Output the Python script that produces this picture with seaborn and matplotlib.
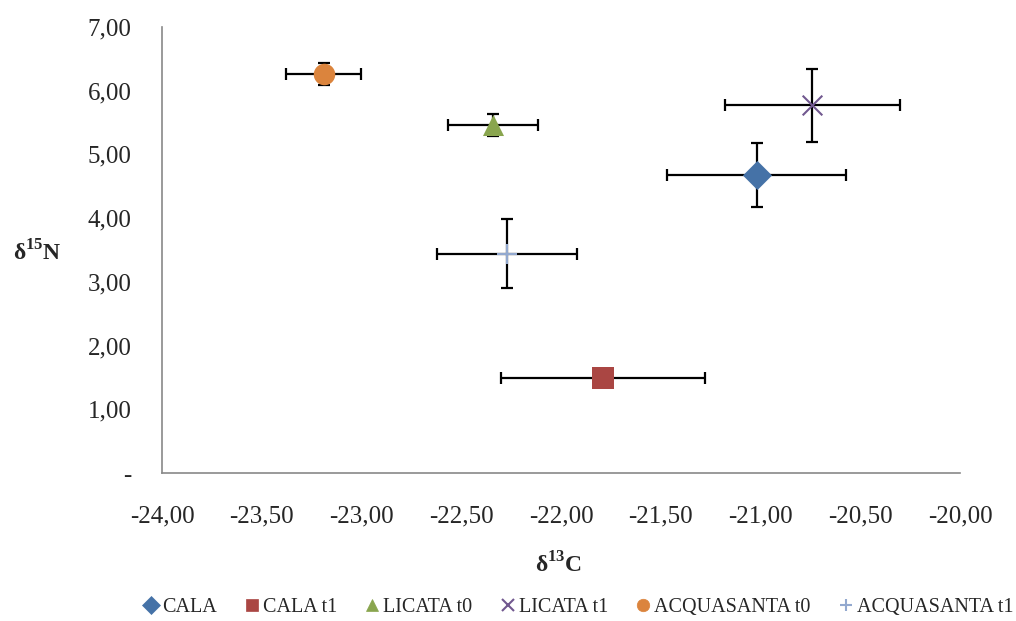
import pandas as pd
import matplotlib
matplotlib.use("Agg")
import matplotlib.pyplot as plt
from matplotlib.ticker import FuncFormatter, MultipleLocator
from matplotlib.lines import Line2D
import seaborn as sns

# Dati (medie e deviazioni standard)
gruppi = ["CALA", "CALA t1", "LICATA t0", "LICATA t1", "ACQUASANTA t0", "ACQUASANTA t1"]
d13c = [-21.02, -21.79, -22.34, -20.74, -23.19, -22.27]
d15n = [4.68, 1.49, 5.46, 5.77, 6.26, 3.44]
err_c = [0.45, 0.51, 0.225, 0.44, 0.19, 0.35]
err_n = [0.50, 0.10, 0.17, 0.57, 0.17, 0.54]

colori = ["#4572A7", "#AA4643", "#89A54E", "#71588F", "#DB843D", "#93A9CF"]
marcatori = ["D", "s", "^", "x", "o", "+"]
dimensioni = [220, 250, 230, 200, 240, 210]

sns.set_style("white")
plt.rcParams["font.family"] = ["Liberation Serif", "DejaVu Serif"]
plt.rcParams["mathtext.fontset"] = "custom"
plt.rcParams["mathtext.rm"] = "Liberation Serif"
plt.rcParams["mathtext.bf"] = "Liberation Serif:bold"

df = pd.DataFrame({"Gruppo": gruppi, "d13C": d13c, "d15N": d15n,
                   "errC": err_c, "errN": err_n})

fig = plt.figure(figsize=(10.16, 6.21), dpi=100)
ax = fig.add_axes([0.1594, 0.2383, 0.7855, 0.7182])

ax.errorbar(df["d13C"], df["d15N"], xerr=df["errC"], yerr=df["errN"],
            fmt="none", ecolor="black", elinewidth=1.6, capsize=4.5,
            capthick=1.6, zorder=1)

for i, g in enumerate(gruppi):
    sub = df[df["Gruppo"] == g]
    lw = 1.5 if marcatori[i] in ("x", "+") else 0
    sns.scatterplot(data=sub, x="d13C", y="d15N", marker=marcatori[i],
                    color=colori[i], s=dimensioni[i], linewidth=lw,
                    edgecolor=colori[i] if lw == 0 else None,
                    ax=ax, zorder=3, legend=False)

ax.set_xlim(-24, -20)
ax.set_ylim(0, 7)
ax.xaxis.set_major_locator(MultipleLocator(0.5))
ax.yaxis.set_major_locator(MultipleLocator(1))


def fmt_virgola(v, pos):
    if abs(v) < 1e-9:
        return "-"
    return f"{v:.2f}".replace(".", ",")


ax.xaxis.set_major_formatter(FuncFormatter(fmt_virgola))
ax.yaxis.set_major_formatter(FuncFormatter(fmt_virgola))

for s in ["top", "right"]:
    ax.spines[s].set_visible(False)
for s in ["left", "bottom"]:
    ax.spines[s].set_color("#898989")
    ax.spines[s].set_linewidth(1.2)

ax.tick_params(axis="both", which="major", direction="out", length=5,
               width=1.2, color="#898989", labelsize=18)
ax.tick_params(axis="y", pad=17)
ax.tick_params(axis="x", pad=18)

ax.set_xlabel("δ$^{\\mathbf{13}}$C", fontsize=17, fontweight="bold", va="center")
ax.set_ylabel("δ$^{\\mathbf{15}}$N", fontsize=17, fontweight="bold",
              rotation=0, va="center", ha="center")
ax.xaxis.set_label_coords(0.497, -0.206)
ax.yaxis.set_label_coords(-0.1566, 0.493)

handles = []
for i, g in enumerate(gruppi):
    lw = 1.5 if marcatori[i] in ("x", "+") else 0.5
    handles.append(Line2D([], [], linestyle="none", marker=marcatori[i],
                          color=colori[i], markersize=9, markeredgewidth=lw,
                          label=g))
fig.legend(handles=handles, loc="center", bbox_to_anchor=(0.568, 0.022), ncol=6,
           frameon=False, fontsize=14.5, handletextpad=0.05, columnspacing=1.25,
           handlelength=1.0)

fig.savefig("out.png", dpi=100)
